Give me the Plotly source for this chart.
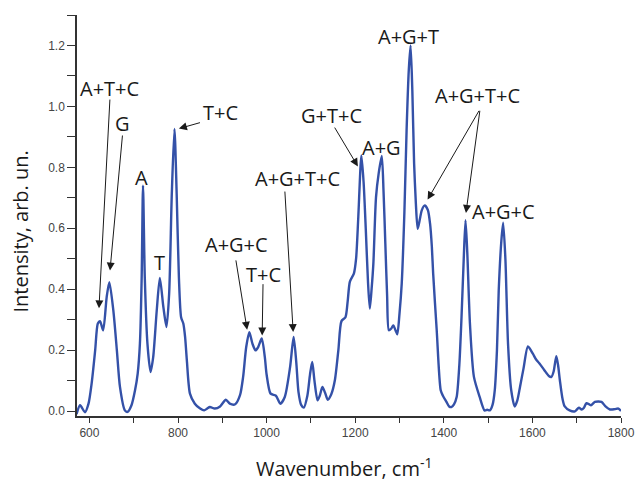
import plotly.graph_objects as go

# Raman spectrum (wavenumber, cm^-1 ; intensity, arb. un.)
wavenumber = [571, 579, 590, 598, 605, 613, 619, 624, 631, 639, 645, 654, 662, 669, 680, 686,
              695, 703, 709, 714, 718, 721, 725, 731, 738, 744, 752, 759, 767, 774, 780, 786,
              792, 797, 802, 807, 812, 816, 820, 827, 838, 850, 859, 866, 872, 883, 895, 908,
              917, 929, 940, 947, 954, 961, 968, 975, 981, 989, 996, 1000, 1009, 1021, 1031,
              1041, 1053, 1061, 1067, 1072, 1078, 1084, 1092, 1098, 1103, 1108, 1115, 1120,
              1126, 1132, 1138, 1146, 1154, 1162, 1169, 1178, 1183, 1188, 1197, 1202, 1207,
              1214, 1219, 1224, 1229, 1233, 1237, 1241, 1247, 1253, 1260, 1264, 1268, 1272,
              1276, 1281, 1286, 1291, 1295, 1300, 1305, 1311, 1316, 1321, 1325, 1329, 1333,
              1337, 1341, 1346, 1350, 1357, 1364, 1369, 1373, 1376, 1384, 1393, 1398, 1406,
              1412, 1417, 1423, 1429, 1435, 1440, 1445, 1449, 1453, 1459, 1468, 1481, 1492,
              1498, 1504, 1510, 1515, 1520, 1524, 1530, 1534, 1539, 1545, 1552, 1560, 1566,
              1572, 1580, 1590, 1601, 1608, 1616, 1627, 1637, 1643, 1648, 1654, 1658, 1662,
              1668, 1673, 1684, 1696, 1705, 1711, 1716, 1722, 1732, 1741, 1756, 1765, 1775,
              1786, 1794, 1800]
intensity = [-0.010, 0.019, -0.004, 0.024, 0.090, 0.199, 0.287, 0.295, 0.265, 0.374, 0.423,
             0.330, 0.199, 0.079, 0.002, -0.003, 0.019, 0.068, 0.123, 0.221, 0.440, 0.740,
             0.440, 0.221, 0.128, 0.177, 0.330, 0.437, 0.341, 0.276, 0.385, 0.713, 0.926,
             0.713, 0.440, 0.308, 0.287, 0.243, 0.166, 0.057, 0.024, 0.008, 0.002, 0.008,
             0.013, 0.008, 0.015, 0.037, 0.024, 0.022, 0.052, 0.112, 0.210, 0.259, 0.221,
             0.199, 0.210, 0.238, 0.177, 0.120, 0.057, 0.050, 0.024, 0.046, 0.144, 0.243,
             0.160, 0.062, 0.020, 0.011, 0.050, 0.120, 0.161, 0.100, 0.035, 0.050, 0.079,
             0.060, 0.037, 0.055, 0.100, 0.200, 0.295, 0.308, 0.360, 0.425, 0.451, 0.500,
             0.637, 0.839, 0.750, 0.593, 0.420, 0.336, 0.400, 0.484, 0.702, 0.780, 0.837,
             0.720, 0.550, 0.380, 0.265, 0.270, 0.281, 0.265, 0.252, 0.320, 0.418, 0.650,
             0.921, 1.120, 1.200, 1.050, 0.812, 0.680, 0.598, 0.630, 0.658, 0.675, 0.660,
             0.615, 0.540, 0.451, 0.265, 0.068, 0.050, 0.030, 0.015, 0.013, 0.022, 0.046,
             0.150, 0.308, 0.500, 0.626, 0.520, 0.287, 0.112, 0.046, 0.002, 0.004, 0.002,
             0.020, 0.068, 0.200, 0.396, 0.560, 0.618, 0.500, 0.220, 0.070, 0.015, 0.035,
             0.079, 0.140, 0.212, 0.188, 0.170, 0.156, 0.134, 0.115, 0.112, 0.130, 0.180,
             0.150, 0.101, 0.040, 0.015, 0.002, -0.001, 0.011, 0.005, 0.010, 0.026, 0.019,
             0.030, 0.030, 0.015, 0.005, 0.006, 0.008, 0.000]

# Text labels: (text, wavenumber, intensity)
label_text = ["A+T+C", "G", "A", "T", "T+C", "A+G+T+C", "A+G+C", "T+C", "G+T+C", "A+G",
              "A+G+T", "A+G+T+C", "A+G+C"]
label_x = [646, 674, 718, 759, 897, 1070, 933, 994, 1147, 1260, 1321, 1477, 1535]
label_y = [1.058, 0.944, 0.767, 0.488, 0.980, 0.762, 0.547, 0.449, 0.970, 0.866, 1.229,
           1.036, 0.656]

# Arrows: tail (x, y) -> head (x, y)
arrow_tail_x = [646.5, 675, 853, 1041, 930, 992, 1151, 1482, 1482]
arrow_tail_y = [1.029, 0.911, 0.948, 0.727, 0.501, 0.423, 0.937, 0.992, 0.992]
arrow_head_x = [621.6, 646.5, 802, 1060, 956, 990, 1206, 1363.5, 1450]
arrow_head_y = [0.337, 0.461, 0.927, 0.259, 0.267, 0.248, 0.803, 0.694, 0.650]

fig = go.Figure()
fig.add_trace(go.Scatter(
    x=wavenumber, y=intensity, mode="lines",
    line=dict(color="#3451a8", width=2.4, shape="spline", smoothing=0.7),
    showlegend=False, hoverinfo="skip"))

ann_font = dict(family="Open Sans, Noto Sans, sans-serif", size=20, color="#1a1a1a")
annotations = []
for t, x, y in zip(label_text, label_x, label_y):
    annotations.append(dict(x=x, y=y, xref="x", yref="y", text=t, showarrow=False,
                            font=ann_font, xanchor="center", yanchor="middle"))
for tx, ty, hx, hy in zip(arrow_tail_x, arrow_tail_y, arrow_head_x, arrow_head_y):
    annotations.append(dict(x=hx, y=hy, ax=tx, ay=ty, xref="x", yref="y",
                            axref="x", ayref="y", text=" ", showarrow=True,
                            arrowhead=2, arrowsize=1.6, arrowwidth=1,
                            arrowcolor="#1a1a1a", standoff=0, startstandoff=0,
                            font=dict(size=1)))

title_font = dict(family="Open Sans, Noto Sans, sans-serif", size=20, color="#1a1a1a")
annotations.append(dict(x=-0.103, y=0.46, xref="paper", yref="paper",
                        text="Intensity, arb. un.", showarrow=False, textangle=-90,
                        font=title_font, xanchor="center", yanchor="middle"))
annotations.append(dict(x=0.49, y=-0.128, xref="paper", yref="paper",
                        text="Wavenumber, cm<sup>-1</sup>", showarrow=False,
                        font=title_font, xanchor="center", yanchor="middle"))

tick_font = dict(family="Liberation Sans, Arial, sans-serif", size=12, color="#444444")
fig.update_layout(
    width=637, height=483, autosize=False,
    margin=dict(l=77, r=16, t=15, b=67, autoexpand=False),
    plot_bgcolor="white", paper_bgcolor="white",
    annotations=annotations,
    xaxis=dict(range=[572, 1800], tickvals=[600, 800, 1000, 1200, 1400, 1600, 1800],
               automargin=False,
               ticks="outside", ticklen=5, tickwidth=1.2, tickcolor="#333333",
               minor=dict(tickvals=[700, 900, 1100, 1300, 1500, 1700], ticks="outside",
                          ticklen=5, tickwidth=1.2, tickcolor="#333333"),
               showline=True, linecolor="#333333", linewidth=1.5, showgrid=False,
               zeroline=False, tickfont=tick_font),
    yaxis=dict(range=[-0.0164, 1.30], tickvals=[0, 0.2, 0.4, 0.6, 0.8, 1.0, 1.2],
               tickformat=".1f", automargin=False,
               ticks="outside", ticklen=8, tickwidth=1.2, tickcolor="#333333",
               minor=dict(tickvals=[0.1, 0.3, 0.5, 0.7, 0.9, 1.1, 1.3], ticks="outside",
                          ticklen=8, tickwidth=1.2, tickcolor="#333333"),
               showline=True, linecolor="#333333", linewidth=1.5, showgrid=False,
               zeroline=False, tickfont=tick_font),
)

fig.write_html("out.html")
